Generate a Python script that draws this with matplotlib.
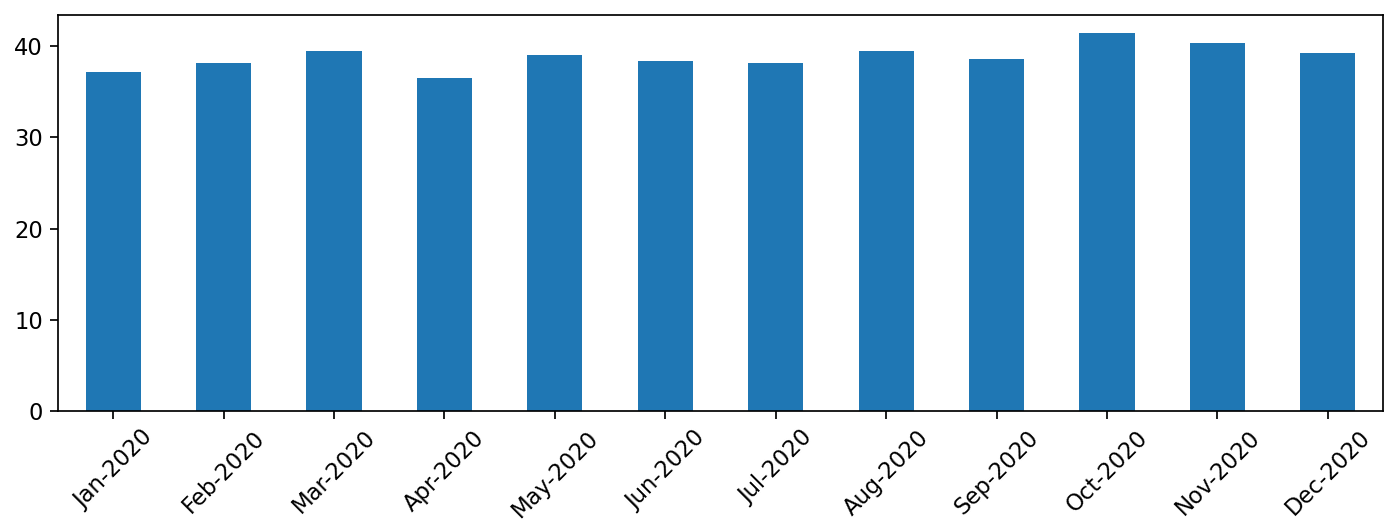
import numpy as np
import matplotlib.pyplot as plt

meses = ["Jan-2020", "Feb-2020", "Mar-2020", "Apr-2020", "May-2020", "Jun-2020",
         "Jul-2020", "Aug-2020", "Sep-2020", "Oct-2020", "Nov-2020", "Dec-2020"]
valores = [37.1, 38.1, 39.5, 36.5, 39.0, 38.4, 38.1, 39.5, 38.6, 41.4, 40.3, 39.2]

DPI = 155
fig = plt.figure(figsize=(1394 / DPI, 521 / DPI), dpi=DPI)
ax = fig.add_axes([58 / 1394, 1 - 411 / 521, (1383 - 58) / 1394, (411 - 15) / 521])

x = np.arange(len(meses))
ax.bar(x, valores, width=0.5, color="#1f77b4")
ax.set_xlim(-0.5, len(meses) - 0.5)
ax.set_xticks(x)
ax.set_xticklabels(meses, rotation=45)
ax.set_yticks([0, 10, 20, 30, 40])
ax.set_ylim(0, 43.4)
ax.tick_params(labelsize=10.5)

fig.savefig("out.png", dpi=DPI)
